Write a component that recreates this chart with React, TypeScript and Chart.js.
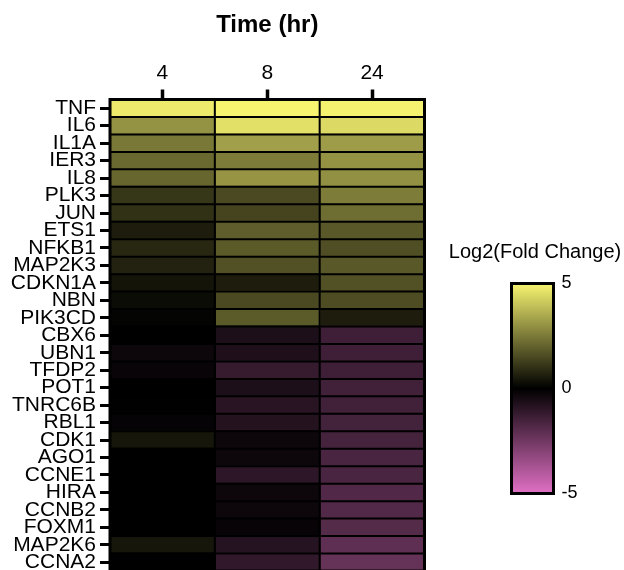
import React, { useEffect, useRef } from "react";
import { Chart, registerables } from "chart.js";
Chart.register(...registerables);

const genes = [
  "TNF", "IL6", "IL1A", "IER3", "IL8", "PLK3", "JUN", "ETS1", "NFKB1",
  "MAP2K3", "CDKN1A", "NBN", "PIK3CD", "CBX6", "UBN1", "TFDP2", "POT1",
  "TNRC6B", "RBL1", "CDK1", "AGO1", "CCNE1", "HIRA", "CCNB2", "FOXM1",
  "MAP2K6", "CCNA2",
];
const timeLabels = ["4", "8", "24"];
const values4h = [
  4.8, 3.0, 2.45, 2.15, 2.1, 1.1, 1.0, 0.6, 0.8, 0.7, 0.4, 0.25, 0.08,
  0.0, -0.3, -0.2, -0.02, -0.05, -0.12, 0.45, 0.0, 0.0, 0.0, 0.0, 0.0, 0.45, 0.0,
];
const values8h = [
  5.0, 4.6, 3.25, 2.55, 3.05, 1.5, 1.4, 1.9, 1.85, 1.65, 0.6, 1.5, 1.85,
  -0.65, -0.67, -1.2, -0.65, -0.9, -0.8, -0.3, -0.3, -1.0, -0.3, -0.3, -0.15, -0.85, -1.1,
];
const values24h = [
  4.95, 4.45, 3.2, 3.0, 2.95, 2.55, 2.25, 1.8, 1.6, 1.8, 1.65, 1.55, 0.6,
  -1.4, -1.4, -1.4, -1.45, -1.45, -1.5, -1.55, -1.65, -1.65, -1.8, -1.85, -1.9, -2.1, -2.25,
];
const colorbarTicks = [5, 0, -5];
const colorMin = -5;
const colorMax = 5;

const HIGH = [247, 244, 112];
const LOW = [224, 112, 196];
const FONT = "'Liberation Sans', Arial, sans-serif";

function colorFor(v: number): string {
  const base = v >= 0 ? HIGH : LOW;
  const t = Math.min(Math.abs(v) / (v >= 0 ? colorMax : -colorMin), 1);
  return `rgb(${Math.round(base[0] * t)},${Math.round(base[1] * t)},${Math.round(base[2] * t)})`;
}

export default function App() {
  const ref = useRef<HTMLCanvasElement>(null);
  useEffect(() => {
    if (!ref.current) return;
    const cols = [values4h, values8h, values24h];
    const datasets = cols.map((vals, c) => ({
      label: timeLabels[c],
      data: vals.map(() => [c, c + 1]),
      backgroundColor: vals.map(colorFor),
      borderWidth: 0,
      borderSkipped: false as const,
      inflateAmount: 1,
      grouped: false,
      barPercentage: 1,
      categoryPercentage: 1,
    }));

    const overlay = {
      id: "overlay",
      afterDatasetsDraw(chart: any) {
        const { ctx, chartArea: a } = chart;
        const xs = chart.scales.x;
        const ys = chart.scales.y;
        ctx.save();
        ctx.strokeStyle = "#000";
        // cell separators
        ctx.lineWidth = 2;
        ctx.beginPath();
        for (let i = 0; i < genes.length - 1; i++) {
          const y = (ys.getPixelForValue(i) + ys.getPixelForValue(i + 1)) / 2;
          ctx.moveTo(a.left, y);
          ctx.lineTo(a.right, y);
        }
        for (let c = 1; c < timeLabels.length; c++) {
          const x = xs.getPixelForValue(c);
          ctx.moveTo(x, a.top);
          ctx.lineTo(x, a.bottom);
        }
        ctx.stroke();
        ctx.lineWidth = 3;
        ctx.strokeRect(a.left, a.top, a.right - a.left, a.bottom - a.top);

        // colorbar
        const bx = 511.5, by = 283.5, bw = 42, bh = 210;
        const g = ctx.createLinearGradient(0, by, 0, by + bh);
        g.addColorStop(0, colorFor(colorMax));
        g.addColorStop(0.5, colorFor(0));
        g.addColorStop(1, colorFor(colorMin));
        ctx.fillStyle = g;
        ctx.fillRect(bx, by, bw, bh);
        ctx.lineWidth = 3;
        ctx.strokeStyle = "#000";
        ctx.strokeRect(bx, by, bw, bh);

        ctx.fillStyle = "#000";
        ctx.font = `18px ${FONT}`;
        ctx.textAlign = "left";
        ctx.textBaseline = "middle";
        colorbarTicks.forEach((v) => {
          const y = by + ((colorMax - v) / (colorMax - colorMin)) * bh;
          ctx.fillText(String(v), bx + bw + 8, y);
        });

        ctx.font = `20px ${FONT}`;
        ctx.textAlign = "center";
        ctx.fillText("Log2(Fold Change)", 535, 252);
        ctx.restore();
      },
    };

    const chart = new Chart(ref.current, {
      type: "bar",
      data: { labels: genes, datasets: datasets as any },
      options: {
        indexAxis: "y",
        animation: false,
        responsive: false,
        maintainAspectRatio: false,
        layout: { padding: { top: 0, left: 0, right: 199.5, bottom: 9 } },
        plugins: { legend: { display: false }, tooltip: { enabled: false } },
        scales: {
          x: {
            type: "linear",
            position: "top",
            min: 0,
            max: 3,
            afterBuildTicks: (s: any) => {
              s.ticks = timeLabels.map((_, i) => ({ value: i + 0.5 }));
            },
            afterFit: (s: any) => {
              s.height = 99.5;
              s.paddingLeft = 0;
              s.paddingRight = 0;
            },
            ticks: {
              callback: (_v: any, i: number) => timeLabels[i],
              font: { size: 21, family: FONT },
              color: "#000",
              padding: 3.5,
              maxRotation: 0,
              autoSkip: false,
            },
            grid: {
              drawOnChartArea: false,
              drawTicks: true,
              tickLength: 10,
              tickWidth: 3.5,
              tickColor: "#000",
            },
            border: { display: false },
            title: {
              display: true,
              text: "Time (hr)",
              color: "#000",
              font: { size: 24, weight: "bold", family: FONT },
              padding: { top: 10.6, bottom: 0 },
            },
          },
          y: {
            type: "category",
            position: "left",
            afterFit: (s: any) => {
              s.width = 110;
              s.paddingTop = 0;
              s.paddingBottom = 0;
            },
            ticks: {
              font: { size: 21, family: FONT },
              color: "#000",
              padding: 4,
              autoSkip: false,
            },
            grid: {
              offset: false,
              drawOnChartArea: false,
              drawTicks: true,
              tickLength: 10,
              tickWidth: 3,
              tickColor: "#000",
            },
            border: { display: false },
          },
        },
      } as any,
      plugins: [overlay],
    });
    return () => chart.destroy();
  }, []);

  return (
    <div
      style={{
        position: "absolute",
        left: 0,
        top: 0,
        width: 624,
        height: 570,
        overflow: "hidden",
        background: "#fff",
      }}
    >
      <canvas ref={ref} width={624} height={580} style={{ display: "block" }} />
    </div>
  );
}
